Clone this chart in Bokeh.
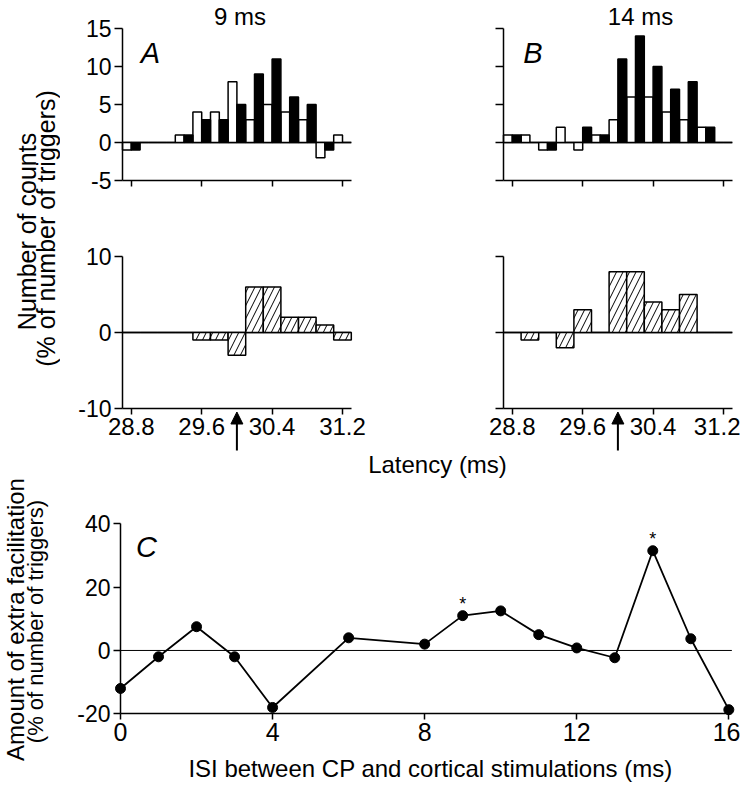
import math
from bokeh.plotting import figure
from bokeh.layouts import column, row
from bokeh.models import Range1d, FixedTicker, Arrow, NormalHead
from bokeh.core.properties import value
from bokeh.embed import file_html
from bokeh.resources import INLINE

FONT = "Liberation Sans"

# ---------------- data ----------------
bin_centers = [28.8, 29.0, 29.2, 29.4, 29.6, 29.8, 30.0, 30.2, 30.4, 30.6, 30.8, 31.0, 31.2]
bin_width = 0.2
# panel A (ISI 9 ms): white = control, black = combined stimulation
a_control = [-1, 0, 0, 1, 4, 4, 8, 3, 5, 4, 3, -2, 1]
a_combined = [-1, 0, 0, 1, 3, 3, 5, 9, 11, 6, 5, -1, 0]
a_extra = [0, 0, 0, 0, -1, -1, -3, 6, 6, 2, 2, 1, -1]
# panel B (ISI 14 ms)
b_control = [1, 1, -1, 2, -1, 1, 3, 6, 6, 4, 3, 2, 0]
b_combined = [1, 0, -1, 0, 2, 1, 11, 14, 10, 7, 8, 2, 0]
b_extra = [0, -1, 0, -2, 3, 0, 8, 8, 4, 3, 5, 0, 0]
panel_titles = ["9 ms", "14 ms"]
stim_latency = 30.0
latency_extent = (28.7, 31.3)
latency_ticks = [28.8, 29.6, 30.4, 31.2]
latency_tick_labels = ["28.8", "29.6", "30.4", "31.2"]
top_extent = (-5, 15)
top_ticks = [-5, 0, 5, 10, 15]
top_tick_labels = ["-5", "0", "5", "10", "15"]
bottom_extent = (-10, 10)
bottom_ticks = [-10, 0, 10]
bottom_tick_labels = ["-10", "0", "10"]
# panel C
isi = [0, 1, 2, 3, 4, 6, 8, 9, 10, 11, 12, 13, 14, 15, 16]
extra_fac = [-12, -2, 7.5, -2, -18, 4, 2, 11, 12.5, 5, 0.8, -2.3, 31.5, 3.7, -18.7]
sig_isi = [9, 14]
isi_extent = (0, 16.08)
isi_ticks = [0, 4, 8, 12, 16]
isi_tick_labels = ["0", "4", "8", "12", "16"]
fac_extent = (-20, 40)
fac_ticks = [-20, 0, 20, 40]
fac_tick_labels = ["-20", "0", "20", "40"]

# ---------------- page geometry (pixels) ----------------
LAB_W = 60
A_L, A_R, A_AX = 60, 440, 122       # figure left/right, y-axis position
B_L, B_R, B_AX = 440, 740, 503
TOP_T, TOP_B, TOP_Q = 0, 200, 28    # figure top/bottom, pixel row of value 15
BOT_T, BOT_B, BOT_Q = 200, 452, 256  # pixel row of value 10
C_L, C_R, C_AX = 0, 740, 120
C_T, C_B, C_Q = 452, 788, 523.3      # pixel row of value 40
S_MS = 88.0       # px per ms
S_CNT = 7.6       # px per count unit
S_ISI = 38.02     # px per ms (panel C)
S_FAC = 3.1667    # px per % (panel C)


class Mapper:
    def __init__(self, L, R, P, v, sx, T, B, q, w, sy):
        self.L, self.R, self.P, self.v, self.sx = L, R, P, v, sx
        self.T, self.B, self.q, self.w, self.sy = T, B, q, w, sy

    def xr(self):
        return Range1d(self.v - (self.P - self.L) / self.sx, self.v + (self.R - self.P) / self.sx)

    def yr(self):
        return Range1d(self.w - (self.B - self.q) / self.sy, self.w + (self.q - self.T) / self.sy)

    def x(self, px):
        return self.v + (px - self.P) / self.sx

    def y(self, py):
        return self.w - (py - self.q) / self.sy


def make_fig(m):
    p = figure(width=m.R - m.L, height=m.B - m.T, x_range=m.xr(), y_range=m.yr(),
               output_backend="svg", toolbar_location=None, tools="",
               min_border_left=0, min_border_right=0, min_border_top=0, min_border_bottom=0)
    p.grid.visible = False
    p.outline_line_color = None
    p.background_fill_color = "white"
    p.border_fill_color = "white"
    return p


def style_axis(ax, ticks, labels, size="23px", tick_out=7, show=True, standoff=3):
    ax.ticker = FixedTicker(ticks=ticks)
    ax.major_label_overrides = {t: l for t, l in zip(ticks, labels)}
    ax.major_tick_in = 0
    ax.major_tick_out = tick_out
    ax.minor_tick_in = 0
    ax.minor_tick_out = 0
    ax.axis_line_width = 1.5
    ax.major_tick_line_width = 1.5
    ax.axis_line_color = "black"
    ax.major_tick_line_color = "black"
    ax.major_label_text_font = FONT
    ax.major_label_text_color = "black"
    ax.major_label_standoff = standoff
    ax.major_label_text_font_size = size
    if not show:
        ax.major_label_text_alpha = 0


def txt(p, x, y, s, size, **kw):
    p.text(x=[x], y=[y], text=[s], text_font=value(FONT), text_font_size=size,
           text_color="black", text_align="center", text_baseline="middle", **kw)


def top_panel(L, R, AX, ctrl, comb, title, title_px, letter, letter_px, labels):
    m = Mapper(L, R, AX, latency_extent[0], S_MS, TOP_T, TOP_B, TOP_Q, top_extent[1], S_CNT)
    p = make_fig(m)
    xa, ya = p.xaxis[0], p.yaxis[0]
    style_axis(xa, latency_ticks, latency_tick_labels, tick_out=6, show=False)
    xa.fixed_location = top_extent[0]
    xa.bounds = latency_extent
    style_axis(ya, top_ticks, top_tick_labels, tick_out=8, show=labels)
    ya.fixed_location = latency_extent[0]
    ya.bounds = top_extent
    p.segment(x0=[latency_extent[0]], y0=[0], x1=[latency_extent[1]], y1=[0],
              line_color="black", line_width=1.5)
    xw = [c - bin_width / 4 for c in bin_centers]
    xb = [c + bin_width / 4 for c in bin_centers]
    p.vbar(x=xw, top=ctrl, bottom=0, width=bin_width / 2, fill_color="white",
           line_color="black", line_width=1.5)
    p.vbar(x=xb, top=comb, bottom=0, width=bin_width / 2, fill_color="black",
           line_color="black", line_width=1.5)
    txt(p, m.x(title_px), m.y(15.5), title, "24px")
    txt(p, m.x(letter_px), m.y(52.5), letter, "29px", text_font_style="italic")
    return p


def bottom_panel(L, R, AX, extra, labels):
    m = Mapper(L, R, AX, latency_extent[0], S_MS, BOT_T, BOT_B, BOT_Q, bottom_extent[1], S_CNT)
    p = make_fig(m)
    xa, ya = p.xaxis[0], p.yaxis[0]
    style_axis(xa, latency_ticks, latency_tick_labels, size="24px", tick_out=6, standoff=3)
    xa.fixed_location = bottom_extent[0]
    xa.bounds = latency_extent
    style_axis(ya, bottom_ticks, bottom_tick_labels, tick_out=8, show=labels)
    ya.fixed_location = latency_extent[0]
    ya.bounds = bottom_extent
    p.segment(x0=[latency_extent[0]], y0=[0], x1=[latency_extent[1]], y1=[0],
              line_color="black", line_width=1.5)
    p.vbar(x=bin_centers, top=extra, bottom=0, width=bin_width, fill_color="white",
           line_color="black", line_width=1.5, hatch_pattern="/", hatch_color="black",
           hatch_weight=1, hatch_scale=13)
    p.add_layout(Arrow(end=NormalHead(size=12, fill_color="black", line_color="black",
                                      line_width=1),
                       x_start=stim_latency, y_start=m.y(450), x_end=stim_latency,
                       y_end=m.y(411.5), line_color="black", line_width=2))
    return p


a_top = top_panel(A_L, A_R, A_AX, a_control, a_combined, panel_titles[0], 239.5, "A", 150, True)
b_top = top_panel(B_L, B_R, B_AX, b_control, b_combined, panel_titles[1], 640, "B", 532.5, False)
a_bot = bottom_panel(A_L, A_R, A_AX, a_extra, True)
b_bot = bottom_panel(B_L, B_R, B_AX, b_extra, False)

# left label for A/B (plain pixel coordinates, y measured upward)
lab_top = figure(width=LAB_W, height=BOT_B, x_range=Range1d(0, LAB_W), y_range=Range1d(0, BOT_B),
                 output_backend="svg", toolbar_location=None, tools="",
                 min_border_left=0, min_border_right=0, min_border_top=0, min_border_bottom=0)
lab_top.axis.visible = False
lab_top.grid.visible = False
lab_top.outline_line_color = None
txt(lab_top, 26, BOT_B - 231, "Number of counts", "25px", angle=math.pi / 2)
txt(lab_top, 45, BOT_B - 228, "(% of number of triggers)", "25px", angle=math.pi / 2)

# panel C (also carries the shared "Latency (ms)" label of A/B)
mc = Mapper(C_L, C_R, C_AX, isi_extent[0], S_ISI, C_T, C_B, C_Q, fac_extent[1], S_FAC)
c = make_fig(mc)
xa, ya = c.xaxis[0], c.yaxis[0]
style_axis(xa, isi_ticks, isi_tick_labels, size="25px", tick_out=6, standoff=3)
xa.fixed_location = fac_extent[0]
xa.bounds = isi_extent
style_axis(ya, fac_ticks, fac_tick_labels, size="23px", tick_out=7)
ya.fixed_location = isi_extent[0]
ya.bounds = fac_extent
c.segment(x0=[isi_extent[0]], y0=[0], x1=[isi_extent[1]], y1=[0],
          line_color="black", line_width=1)
c.line(x=isi, y=extra_fac, line_color="black", line_width=1.8)
c.scatter(x=isi, y=extra_fac, size=10, marker="circle", fill_color="black", line_color="black")
sig_vals = [extra_fac[isi.index(s)] for s in sig_isi]
c.text(x=sig_isi, y=sig_vals, text=["*"] * len(sig_isi), y_offset=-12,
       text_font=value(FONT), text_font_size="18px", text_align="center",
       text_baseline="middle", text_color="black")
txt(c, mc.x(146), mc.y(546), "C", "29px", text_font_style="italic")
txt(c, mc.x(430), mc.y(768), "ISI between CP and cortical stimulations (ms)", "24px")
txt(c, mc.x(437), mc.y(464), "Latency (ms)", "24px")
txt(c, mc.x(15), mc.y(619), "Amount of extra facilitation", "24px", angle=math.pi / 2)
txt(c, mc.x(35), mc.y(621), "(% of number of triggers)", "22px", angle=math.pi / 2)

layout = column(
    row(lab_top, column(row(a_top, b_top), row(a_bot, b_bot))),
    c,
)

open("out.html", "w").write(file_html(layout, INLINE))
